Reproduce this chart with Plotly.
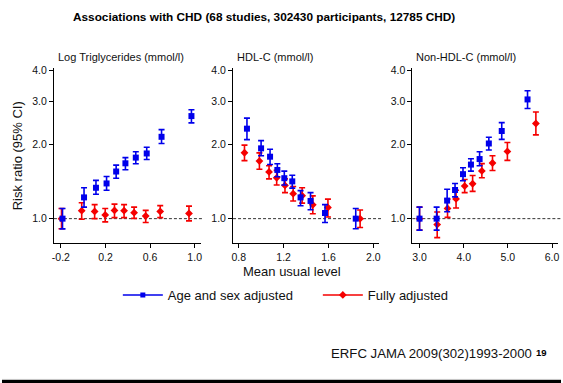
import plotly.graph_objects as go
import math

# Mean usual level of each fifth/tenth, with risk ratios and 95% CIs
tg_x_age = [-0.185, 0.008, 0.115, 0.210, 0.296, 0.379, 0.472, 0.570, 0.703, 0.971]
tg_rr_age = [1.00, 1.22, 1.335, 1.39, 1.554, 1.678, 1.77, 1.84, 2.15, 2.61]
tg_lo_age = [0.909, 1.114, 1.256, 1.304, 1.46, 1.58, 1.67, 1.74, 2.02, 2.45]
tg_hi_age = [1.10, 1.335, 1.43, 1.484, 1.65, 1.77, 1.87, 1.95, 2.30, 2.77]
tg_x_full = [-0.194, -0.013, 0.103, 0.198, 0.281, 0.367, 0.457, 0.561, 0.691, 0.949]
tg_rr_full = [1.00, 1.077, 1.07, 1.035, 1.08, 1.077, 1.057, 1.025, 1.07, 1.05]
tg_lo_full = [0.91, 0.994, 1.00, 0.97, 1.01, 1.01, 1.003, 0.964, 1.01, 0.979]
tg_hi_full = [1.10, 1.16, 1.14, 1.10, 1.145, 1.14, 1.114, 1.08, 1.13, 1.124]

hdl_x_age = [0.873, 0.999, 1.079, 1.144, 1.206, 1.277, 1.351, 1.440, 1.569, 1.843]
hdl_rr_age = [2.32, 1.93, 1.785, 1.577, 1.46, 1.417, 1.22, 1.18, 1.054, 1.00]
hdl_lo_age = [2.095, 1.80, 1.66, 1.48, 1.37, 1.33, 1.128, 1.087, 0.964, 0.91]
hdl_hi_age = [2.56, 2.075, 1.915, 1.67, 1.56, 1.50, 1.30, 1.275, 1.14, 1.10]
hdl_x_full = [0.851, 0.984, 1.070, 1.138, 1.212, 1.285, 1.365, 1.460, 1.595, 1.882]
hdl_rr_full = [1.852, 1.714, 1.548, 1.465, 1.365, 1.263, 1.24, 1.138, 1.11, 1.00]
hdl_lo_full = [1.72, 1.587, 1.45, 1.37, 1.275, 1.18, 1.156, 1.047, 1.016, 0.92]
hdl_hi_full = [1.99, 1.85, 1.64, 1.57, 1.45, 1.35, 1.335, 1.237, 1.20, 1.084]

nhdl_x_age = [3.0, 3.387, 3.625, 3.804, 3.984, 4.164, 4.360, 4.569, 4.861, 5.445]
nhdl_rr_age = [1.00, 1.00, 1.184, 1.307, 1.516, 1.658, 1.746, 2.02, 2.27, 3.05]
nhdl_lo_age = [0.898, 0.898, 1.067, 1.226, 1.425, 1.56, 1.64, 1.90, 2.10, 2.80]
nhdl_hi_age = [1.114, 1.114, 1.316, 1.39, 1.61, 1.75, 1.87, 2.14, 2.456, 3.31]
nhdl_x_full = [3.0, 3.40, 3.634, 3.827, 4.022, 4.202, 4.411, 4.652, 4.989, 5.634]
nhdl_rr_full = [1.00, 0.946, 1.10, 1.203, 1.356, 1.386, 1.563, 1.683, 1.875, 2.435]
nhdl_lo_full = [0.898, 0.837, 1.012, 1.104, 1.275, 1.29, 1.465, 1.568, 1.725, 2.19]
nhdl_hi_full = [1.114, 1.064, 1.20, 1.304, 1.443, 1.497, 1.673, 1.80, 2.04, 2.71]

panel_titles = ["Log Triglycerides (mmol/l)", "HDL-C (mmol/l)", "Non-HDL-C (mmol/l)"]
x_tickvals = [[-0.2, 0.2, 0.6, 1.0], [0.8, 1.2, 1.6, 2.0], [3.0, 4.0, 5.0, 6.0]]
x_ticktext = [["-0.2", "0.2", "0.6", "1.0"], ["0.8", "1.2", "1.6", "2.0"],
              ["3.0", "4.0", "5.0", "6.0"]]
y_tickvals = [1, 2, 3, 4]
y_ticktext = ["1.0", "2.0", "3.0", "4.0"]
series_names = ["Age and sex adjusted", "Fully adjusted"]

W, H = 563, 383
FONT = "Liberation Sans, Arial, sans-serif"
BLUE = "rgb(0,0,235)"
RED = "rgb(245,0,0)"

x_domains = [[52.3 / W, 200 / W], [232.7 / W, 380 / W], [413.3 / W, 560 / W]]
x_ranges = [[-0.262, 1.053], [0.749, 2.053], [2.838, 6.135]]
y_domain = [1 - 241.7 / H, 1 - 65 / H]
y_range = [math.log10(0.795), math.log10(4.08)]

panels = [
    (tg_x_age, tg_rr_age, tg_lo_age, tg_hi_age, tg_x_full, tg_rr_full, tg_lo_full, tg_hi_full),
    (hdl_x_age, hdl_rr_age, hdl_lo_age, hdl_hi_age, hdl_x_full, hdl_rr_full, hdl_lo_full, hdl_hi_full),
    (nhdl_x_age, nhdl_rr_age, nhdl_lo_age, nhdl_hi_age, nhdl_x_full, nhdl_rr_full, nhdl_lo_full, nhdl_hi_full),
]

fig = go.Figure()


def err(rr, lo, hi, color):
    return dict(type="data", symmetric=False,
                array=[h - r for r, h in zip(rr, hi)],
                arrayminus=[r - l for r, l in zip(rr, lo)],
                color=color, thickness=1.6, width=3)


for i, (xa, ra, la, ha, xf, rf, lf, hf) in enumerate(panels):
    sfx = "" if i == 0 else str(i + 1)
    fig.add_trace(go.Scatter(
        x=xf, y=rf, mode="markers", xaxis="x" + sfx, yaxis="y" + sfx,
        marker=dict(symbol="diamond", size=6, color=RED),
        error_y=err(rf, lf, hf, RED), showlegend=False, cliponaxis=False))
    fig.add_trace(go.Scatter(
        x=xa, y=ra, mode="markers", xaxis="x" + sfx, yaxis="y" + sfx,
        marker=dict(symbol="square", size=6, color=BLUE),
        error_y=err(ra, la, ha, BLUE), showlegend=False, cliponaxis=False))

# legend entries
fig.add_trace(go.Scatter(x=[None], y=[None], mode="lines+markers", name=series_names[0],
                         line=dict(color=BLUE, width=1.5),
                         marker=dict(symbol="square", size=5, color=BLUE)))
fig.add_trace(go.Scatter(x=[None], y=[None], mode="lines+markers", name=series_names[1],
                         line=dict(color=RED, width=1.5),
                         marker=dict(symbol="diamond", size=6, color=RED)))

axis_common = dict(showline=True, linecolor="black", linewidth=1, ticks="outside",
                   ticklen=4, tickcolor="black", tickwidth=1, showgrid=False,
                   zeroline=False)

layout = dict(
    width=W, height=H, margin=dict(l=0, r=0, t=0, b=0),
    paper_bgcolor="white", plot_bgcolor="white",
    font=dict(family=FONT, color="#111"),
    showlegend=True,
    legend=dict(orientation="h", x=0.565, xanchor="center", y=1 - 294 / H,
                yanchor="middle", font=dict(size=13, family=FONT, color="#111"),
                bgcolor="rgba(0,0,0,0)", itemwidth=40, tracegroupgap=0,
                entrywidth=145, entrywidthmode="pixels"),
)

shapes = []
annotations = []
dash_ends = [201.7 / W, 381.7 / W, 1.0]
y_one = y_domain[0] + (0 - y_range[0]) / (y_range[1] - y_range[0]) * (y_domain[1] - y_domain[0])

for i in range(3):
    sfx = "" if i == 0 else str(i + 1)
    layout["xaxis" + sfx] = dict(axis_common, domain=x_domains[i], range=x_ranges[i],
                                 anchor="y" + sfx, tickvals=x_tickvals[i],
                                 ticktext=x_ticktext[i], tickfont=dict(size=10.5, family=FONT))
    layout["yaxis" + sfx] = dict(axis_common, domain=y_domain, range=y_range, type="log",
                                 anchor="x" + sfx, tickvals=y_tickvals,
                                 ticktext=y_ticktext, tickfont=dict(size=10.5, family=FONT))
    shapes.append(dict(type="line", xref="paper", yref="paper",
                       x0=x_domains[i][0], x1=dash_ends[i], y0=y_one, y1=y_one,
                       line=dict(color="#333", width=1, dash="3px,2px"), layer="below"))
    annotations.append(dict(text=panel_titles[i], xref="paper", yref="paper",
                            x=x_domains[i][0] + 2 / W, y=1 - 54 / H, xanchor="left",
                            yanchor="middle", showarrow=False,
                            font=dict(size=11, family=FONT, color="#111")))

annotations += [
    dict(text="<b>Associations with CHD (68 studies, 302430 participants, 12785 CHD)</b>",
         xref="paper", yref="paper", x=264 / W, y=1 - 13 / H, xanchor="center",
         yanchor="middle", showarrow=False, font=dict(size=11.8, family=FONT, color="#000")),
    dict(text="Risk ratio (95% CI)", xref="paper", yref="paper", x=16 / W, y=1 - 153 / H,
         textangle=-90, xanchor="center", yanchor="middle", showarrow=False,
         font=dict(size=13, family=FONT, color="#111")),
    dict(text="Mean usual level", xref="paper", yref="paper", x=292.5 / W, y=1 - 270 / H,
         xanchor="center", yanchor="middle", showarrow=False,
         font=dict(size=13, family=FONT, color="#111")),
    dict(text="ERFC JAMA 2009(302)1993-2000", xref="paper", yref="paper", x=329 / W,
         y=1 - 353 / H, xanchor="left", yanchor="middle", showarrow=False,
         font=dict(size=13.2, family=FONT, color="#111")),
    dict(text="<b>19</b>", xref="paper", yref="paper", x=536 / W, y=1 - 352 / H,
         xanchor="left", yanchor="middle", showarrow=False,
         font=dict(size=9.5, family=FONT, color="#000")),
]

# footer rule
shapes.append(dict(type="rect", xref="paper", yref="paper", x0=0, x1=1,
                   y0=0, y1=3 / H, fillcolor="black", line=dict(width=0)))
shapes.append(dict(type="line", xref="paper", yref="paper", x0=0, x1=1,
                   y0=3.6 / H, y1=3.6 / H, line=dict(color="#999", width=0.6)))

layout["shapes"] = shapes
layout["annotations"] = annotations
fig.update_layout(**layout)

fig.write_html("out.html")
